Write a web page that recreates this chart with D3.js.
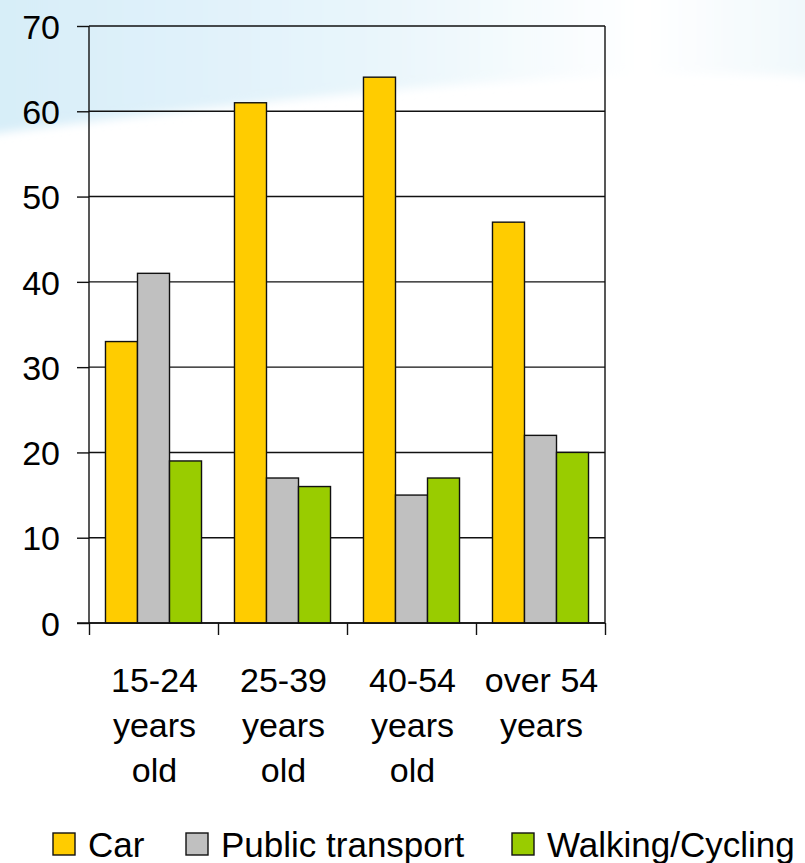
<!DOCTYPE html>
<html>
<head>
<meta charset="utf-8">
<script src="https://cdn.jsdelivr.net/npm/d3@7"></script>
<style>
  html, body { margin: 0; padding: 0; background: #ffffff; }
  svg { display: block; }
  text { font-family: "Liberation Sans", Arial, sans-serif; fill: #000; }
</style>
</head>
<body>
<svg id="chart" width="805" height="863"></svg>
<script>
// Share of trips by mode of transport, per age group
const categories = [["15-24", "years", "old"], ["25-39", "years", "old"], ["40-54", "years", "old"], ["over 54", "years"]];
const seriesNames = ["Car", "Public transport", "Walking/Cycling"];
const carValues = [33, 61, 64, 47];
const publicValues = [41, 17, 15, 22];
const walkValues = [19, 16, 17, 20];
const yTicks = [0, 10, 20, 30, 40, 50, 60, 70];
const colors = ["#FFCC00", "#C0C0C0", "#99CC00"];

const series = [carValues, publicValues, walkValues];
const svg = d3.select("#chart");

// soft blue swoosh in the background
const defs = svg.append("defs");
const grad = defs.append("linearGradient").attr("id", "sky").attr("x1", "0").attr("x2", "1").attr("y1", "0").attr("y2", "0");
grad.append("stop").attr("offset", "0").attr("stop-color", "#d6edf8");
grad.append("stop").attr("offset", "0.45").attr("stop-color", "#e8f5fb");
grad.append("stop").attr("offset", "0.78").attr("stop-color", "#ffffff");
grad.append("stop").attr("offset", "1").attr("stop-color", "#eef7fb");
defs.append("filter").attr("id", "soft").attr("x", "-0.1").attr("y", "-0.2").attr("width", "1.2").attr("height", "1.5")
  .append("feGaussianBlur").attr("stdDeviation", 5);
svg.append("path")
  .attr("d", "M-20,-20 L830,-20 L830,78 C620,62 300,95 -20,135 Z")
  .attr("fill", "url(#sky)")
  .attr("filter", "url(#soft)");

const x = d3.scaleBand().domain(d3.range(categories.length)).range([89, 605]).paddingInner(0).paddingOuter(0);
const xInner = d3.scaleBand().domain(d3.range(series.length)).range([0, x.bandwidth()]).paddingInner(0).paddingOuter(0.515);
const y = d3.scaleLinear().domain([0, 70]).range([623, 26]);

// gridlines with tick stubs on the left
const yAxis = d3.axisLeft(y).tickValues(yTicks).tickSize(12).tickFormat(d3.format("d")).tickPadding(17);
const gy = svg.append("g").attr("transform", "translate(89,0)").call(yAxis);
gy.select(".domain").remove();
gy.selectAll(".tick line").attr("stroke", "#111").attr("stroke-width", 1.4);
gy.selectAll(".tick text").attr("font-size", "34px").attr("fill", "#000")
  .attr("font-family", "'Liberation Sans', Arial, sans-serif").attr("dy", "0.36em");

svg.append("g").selectAll("line.grid").data(yTicks).join("line")
  .attr("x1", 89).attr("x2", 605)
  .attr("y1", d => y(d)).attr("y2", d => y(d))
  .attr("stroke", "#111").attr("stroke-width", 1.4);

// left axis and right frame
svg.append("line").attr("x1", 89).attr("x2", 89).attr("y1", y(70)).attr("y2", y(0)).attr("stroke", "#111").attr("stroke-width", 1.4);
svg.append("line").attr("x1", 605).attr("x2", 605).attr("y1", y(70)).attr("y2", y(0)).attr("stroke", "#111").attr("stroke-width", 1.4);

// bars
const groups = svg.append("g").selectAll("g").data(categories).join("g")
  .attr("transform", (d, i) => `translate(${x(i)},0)`);
groups.selectAll("rect").data((d, i) => series.map((s, k) => ({ k, v: s[i] }))).join("rect")
  .attr("x", d => xInner(d.k))
  .attr("width", xInner.bandwidth())
  .attr("y", d => y(d.v))
  .attr("height", d => y(0) - y(d.v))
  .attr("fill", d => colors[d.k])
  .attr("stroke", "#111").attr("stroke-width", 1.4);

// bottom axis with category separators
const xAxis = d3.axisBottom(d3.scaleLinear().domain([0, categories.length]).range([89, 605]))
  .tickValues(d3.range(categories.length + 1)).tickSize(12).tickFormat("");
const gx = svg.append("g").attr("transform", "translate(0,623)").call(xAxis);
gx.select(".domain").remove();
gx.selectAll(".tick line").attr("stroke", "#111").attr("stroke-width", 1.4);
svg.append("line").attr("x1", 77).attr("x2", 605).attr("y1", 623).attr("y2", 623).attr("stroke", "#111").attr("stroke-width", 1.4);

// multi-line category labels
const labels = svg.append("g").selectAll("text").data(categories).join("text")
  .attr("text-anchor", "middle")
  .attr("font-size", "34px")
  .attr("transform", (d, i) => `translate(${x(i) + x.bandwidth() / 2 + 1},692)`);
labels.selectAll("tspan").data(d => d).join("tspan")
  .attr("x", 0).attr("y", (d, j) => j * 45).text(d => d);

// legend
const legendX = [53, 186, 512];
const legend = svg.append("g").selectAll("g").data(seriesNames).join("g")
  .attr("transform", (d, i) => `translate(${legendX[i]},833)`);
legend.append("rect").attr("width", 22).attr("height", 22)
  .attr("fill", (d, i) => colors[i]).attr("stroke", "#111").attr("stroke-width", 1.4);
legend.append("text").attr("x", 35).attr("y", 23.5).attr("font-size", "35px").text(d => d);
</script>
</body>
</html>
